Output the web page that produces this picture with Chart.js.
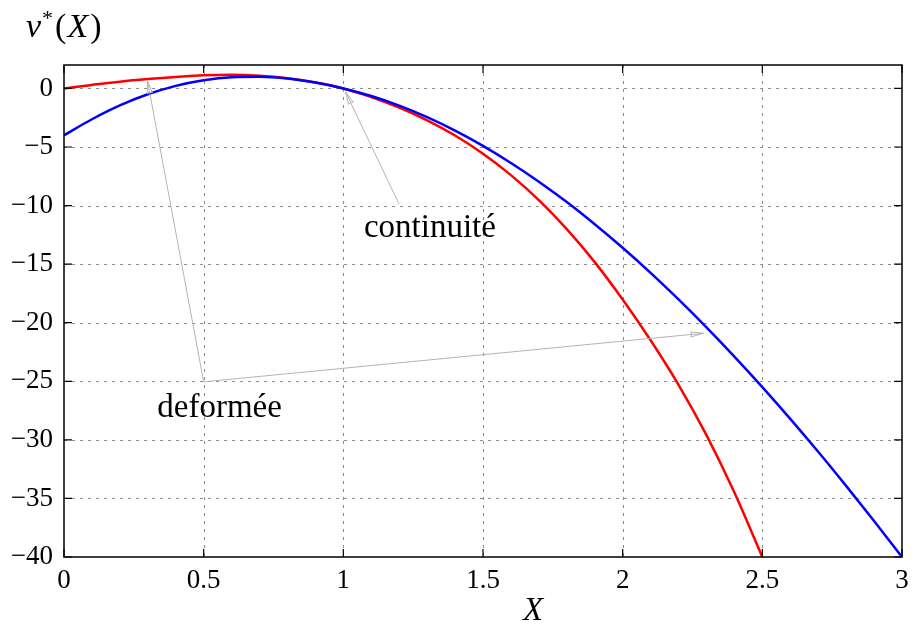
<!DOCTYPE html>
<html>
<head>
<meta charset="utf-8">
<script src="https://cdn.jsdelivr.net/npm/chart.js@4"></script>
<style>
    html, body { margin: 0; padding: 0; background: #fff; }
    #wrap { width: 915px; height: 627px; }
</style>
</head>
<body>
<div id="wrap"><canvas id="deformChart" width="915" height="627"></canvas></div>
<script>
// abscissa samples (X)
const xValues = [0, 0.1, 0.2, 0.3, 0.4, 0.5, 0.6, 0.7, 0.8, 0.9, 1.0,
                 1.1, 1.2, 1.3, 1.4, 1.5, 1.6, 1.7, 1.8, 1.9, 2.0,
                 2.1, 2.2, 2.3, 2.4, 2.5, 2.6, 2.7, 2.8, 2.9, 3.0];

// red curve (stops at X = 2.5)
const redValues = [0, 0.3, 0.58, 0.8, 0.98, 1.12, 1.16, 1.08, 0.87, 0.5, 0,
                   -0.73, -1.63, -2.72, -4.02, -5.57, -7.4, -9.54, -12.01, -14.83, -18.02,
                   -21.5, -25.3, -29.6, -34.5, -40.0];

// blue curve
const blueValues = [-4.0, -2.63, -1.45, -0.5, 0.22, 0.7, 0.96, 1.0, 0.85, 0.5, 0,
                    -0.65, -1.47, -2.45, -3.6, -4.9, -6.36, -7.96, -9.7, -11.59, -13.6,
                    -15.74, -18.01, -20.39, -22.89, -25.5, -28.21, -31.02, -33.93, -36.92, -40.0];

const xTickStep = 0.5;
const yTickStep = 5;

// annotations (data coordinates)
const notes = [
    { text: 'continuité', at: [1.31, -12.7], from: [1.2, -9.9], to: [[1.008, -0.3]] },
    { text: 'deformée', at: [0.557, -28.05], from: [0.5, -25.05], to: [[0.299, 0.65], [2.289, -20.9]] }
];

const serif = "'Liberation Serif', 'DejaVu Serif', serif";

function toPts(vals) {
    return vals.map((v, i) => ({ x: xValues[i], y: v }));
}

function fmtTick(v) {
    return String(v).replace('-', '\u2212');
}

const framePlugin = {
    id: 'frame',
    beforeDatasetsDraw(chart) {
        const { ctx, chartArea: a, scales: { x, y } } = chart;
        ctx.save();
        ctx.strokeStyle = '#8c8c8c';
        ctx.lineWidth = 1;
        ctx.setLineDash([3, 5]);
        x.ticks.forEach(t => {
            const px = Math.round(x.getPixelForValue(t.value)) + 0.5;
            if (px <= a.left + 1 || px >= a.right - 1) return;
            ctx.beginPath(); ctx.moveTo(px, a.top); ctx.lineTo(px, a.bottom); ctx.stroke();
        });
        y.ticks.forEach(t => {
            const py = Math.round(y.getPixelForValue(t.value)) + 0.5;
            if (py <= a.top + 1 || py >= a.bottom - 1) return;
            ctx.beginPath(); ctx.moveTo(a.left, py); ctx.lineTo(a.right, py); ctx.stroke();
        });
        ctx.restore();
    },
    afterDatasetsDraw(chart) {
        const { ctx, chartArea: a, scales: { x, y } } = chart;
        ctx.save();

        // annotation arrows
        ctx.strokeStyle = '#b4b4b4';
        ctx.lineWidth = 1;
        notes.forEach(n => {
            const fx = x.getPixelForValue(n.from[0]), fy = y.getPixelForValue(n.from[1]);
            n.to.forEach(t => {
                const tx = x.getPixelForValue(t[0]), ty = y.getPixelForValue(t[1]);
                ctx.beginPath(); ctx.moveTo(fx, fy); ctx.lineTo(tx, ty); ctx.stroke();
                const ang = Math.atan2(ty - fy, tx - fx);
                const len = 13, spread = 0.2;
                ctx.beginPath();
                ctx.moveTo(tx - len * Math.cos(ang - spread), ty - len * Math.sin(ang - spread));
                ctx.lineTo(tx, ty);
                ctx.lineTo(tx - len * Math.cos(ang + spread), ty - len * Math.sin(ang + spread));
                ctx.quadraticCurveTo(tx - 0.8 * len * Math.cos(ang), ty - 0.8 * len * Math.sin(ang),
                    tx - len * Math.cos(ang - spread), ty - len * Math.sin(ang - spread));
                ctx.stroke();
            });
            ctx.fillStyle = '#000';
            ctx.font = '33px ' + serif;
            ctx.textAlign = 'center';
            ctx.textBaseline = 'alphabetic';
            ctx.fillText(n.text, x.getPixelForValue(n.at[0]), y.getPixelForValue(n.at[1]));
        });

        // frame and inward ticks on all four sides
        ctx.strokeStyle = '#000';
        ctx.lineWidth = 1.5;
        ctx.strokeRect(a.left, a.top, a.right - a.left, a.bottom - a.top);
        ctx.lineWidth = 1.2;
        const tl = 8;
        x.ticks.forEach(t => {
            const px = x.getPixelForValue(t.value);
            ctx.beginPath();
            ctx.moveTo(px, a.bottom); ctx.lineTo(px, a.bottom - tl);
            ctx.moveTo(px, a.top); ctx.lineTo(px, a.top + tl);
            ctx.stroke();
        });
        y.ticks.forEach(t => {
            const py = y.getPixelForValue(t.value);
            ctx.beginPath();
            ctx.moveTo(a.left, py); ctx.lineTo(a.left + tl, py);
            ctx.moveTo(a.right, py); ctx.lineTo(a.right - tl, py);
            ctx.stroke();
        });

        // axis titles
        ctx.fillStyle = '#000';
        ctx.textBaseline = 'alphabetic';
        ctx.textAlign = 'left';
        let cx = 26;
        const by = 37;
        ctx.font = 'italic 34px ' + serif;
        ctx.fillText('v', cx, by); cx += ctx.measureText('v').width + 1;
        ctx.font = '22px ' + serif;
        ctx.fillText('*', cx, by - 12); cx += ctx.measureText('*').width + 2;
        ctx.font = '34px ' + serif;
        ctx.fillText('(', cx, by); cx += ctx.measureText('(').width + 1;
        ctx.font = 'italic 34px ' + serif;
        ctx.fillText('X', cx, by); cx += ctx.measureText('X').width + 2;
        ctx.font = '34px ' + serif;
        ctx.fillText(')', cx, by);

        ctx.textAlign = 'center';
        ctx.font = 'italic 33px ' + serif;
        ctx.fillText('X', 533, 620);
        ctx.restore();
    }
};

new Chart(document.getElementById('deformChart'), {
    type: 'line',
    data: {
        datasets: [
            {
                label: 'blue',
                data: toPts(blueValues),
                borderColor: '#0000ff',
                borderWidth: 2.5,
                pointRadius: 0,
                cubicInterpolationMode: 'monotone',
                fill: false
            },
            {
                label: 'red',
                data: toPts(redValues),
                borderColor: '#ff0000',
                borderWidth: 2.5,
                pointRadius: 0,
                cubicInterpolationMode: 'monotone',
                fill: false
            }
        ]
    },
    options: {
        responsive: false,
        animation: false,
        layout: { padding: { top: 65, right: 13, left: 0, bottom: 0 } },
        plugins: {
            legend: { display: false },
            tooltip: { enabled: false }
        },
        scales: {
            x: {
                type: 'linear',
                min: 0,
                max: 3,
                grid: { display: false },
                border: { display: false },
                ticks: {
                    stepSize: xTickStep,
                    includeBounds: false,
                    maxRotation: 0,
                    padding: 0,
                    color: '#000',
                    font: { family: serif, size: 27 },
                    callback: fmtTick
                },
                afterFit: s => { s.height = 70; }
            },
            y: {
                type: 'linear',
                min: -40,
                max: 2,
                grid: { display: false },
                border: { display: false },
                ticks: {
                    stepSize: yTickStep,
                    includeBounds: false,
                    padding: 3,
                    color: '#000',
                    font: { family: serif, size: 27 },
                    callback: fmtTick
                },
                afterFit: s => { s.width = 64; }
            }
        }
    },
    plugins: [framePlugin]
});
</script>
</body>
</html>
